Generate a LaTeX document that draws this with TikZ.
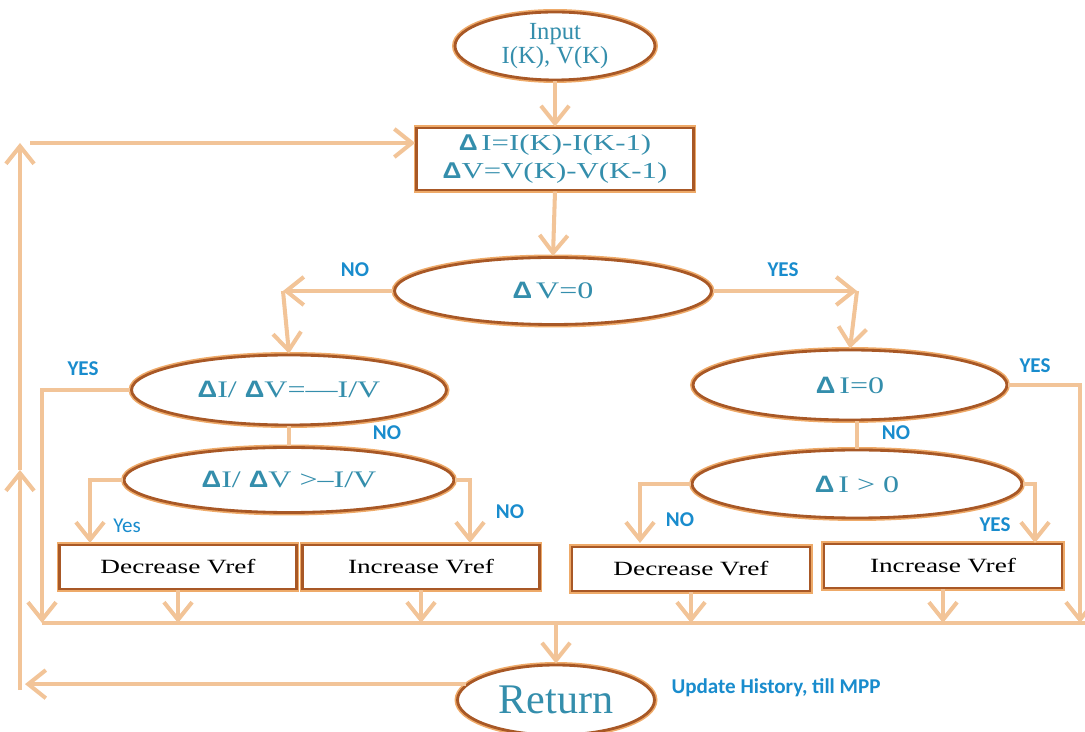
\documentclass[tikz,border=0pt]{standalone}
\usepackage{fontspec}
\setmainfont{Liberation Serif}
\newfontfamily\anchafont[FakeStretch=1.35]{Liberation Serif}
\newfontfamily\deltafont[FakeStretch=1.15]{Liberation Sans}
\newfontfamily\etiqfont{Carlito}
\usetikzlibrary{shapes.geometric,arrows.meta}

\definecolor{conector}{RGB}{242,196,152}
\definecolor{borde}{RGB}{168,88,38}
\definecolor{brillo}{RGB}{238,170,105}
\definecolor{texto}{RGB}{52,142,172}
\definecolor{etiqazul}{RGB}{25,140,205}

\newcommand{\dlt}{{\deltafont\bfseries Δ}}

\tikzset{
  elipse/.style={ellipse, draw=borde, line width=1.6pt, preaction={draw=brillo, line width=3.4pt},
    fill=white, text=texto, align=center, inner sep=0pt,
    font=\anchafont\fontsize{13.5}{16}\selectfont},
  caja/.style={rectangle, draw=borde, line width=1.6pt, preaction={draw=brillo, line width=3.4pt},
    fill=white, align=center, inner sep=0pt,
    font=\anchafont\fontsize{11.5}{16}\selectfont},
  flecha/.style={draw=conector, line width=2.3pt, -{Straight Barb[length=10pt,width=16pt]}},
  linea/.style={draw=conector, line width=2.3pt},
  etiq/.style={text=etiqazul, font=\etiqfont\bfseries\fontsize{12}{14}\selectfont},
}

\begin{document}
\begin{tikzpicture}[x=0.02cm, y=-0.02cm]
\useasboundingbox (0,0) rectangle (1085,732);
% Nodos
\node [elipse, minimum width=4cm, minimum height=1.36cm, font=\fontsize{14}{14}\selectfont] (inp) at (555,46) {Input\\I(K), V(K)};
\node [caja, text=texto, minimum width=5.54cm, minimum height=1.24cm, font=\anchafont\fontsize{13}{16}\selectfont] (dif) at (555,159) {\dlt\,I=I(K)-I(K-1)\\\dlt V=V(K)-V(K-1)};
\node [elipse, minimum width=6.34cm, minimum height=1.34cm] (dv) at (553,291) {\dlt\,V=0};
\node [elipse, minimum width=6.3cm, minimum height=1.4cm] (di1) at (289,390) {\dlt I/ \dlt V=—I/V};
\node [elipse, minimum width=6.6cm, minimum height=1.3cm] (di2) at (289,480) {\dlt I/ \dlt V >–I/V};
\node [elipse, minimum width=6.28cm, minimum height=1.4cm] (dI0) at (850,385) {\dlt\,I=0};
\node [elipse, minimum width=6.6cm, minimum height=1.36cm] (dIp) at (857,484) {\dlt\,I > 0};
\node [caja, minimum width=4.74cm, minimum height=0.88cm] (dec1) at (178,567) {Decrease Vref};
\node [caja, minimum width=4.74cm, minimum height=0.88cm] (inc1) at (421,567) {Increase Vref};
\node [caja, minimum width=4.76cm, minimum height=0.88cm] (dec2) at (691,569) {Decrease Vref};
\node [caja, minimum width=4.76cm, minimum height=0.88cm] (inc2) at (943,566) {Increase Vref};
\node [elipse, minimum width=3.94cm, minimum height=1.4cm, font=\fontsize{24}{24}\selectfont] (ret) at (556,700) {Return};
% Etiquetas
\node [etiq] (no1) at (355,270) {NO};
\node [etiq] (si1) at (783,270) {YES};
\node [etiq] (si2) at (83,369) {YES};
\node [etiq] (no2) at (387,433) {NO};
\node [etiq, font=\etiqfont\fontsize{12}{14}\selectfont] (si3) at (127,526) {Yes};
\node [etiq] (no3) at (510,512) {NO};
\node [etiq] (si4) at (1035,366) {YES};
\node [etiq] (no4) at (896,433) {NO};
\node [etiq] (no5) at (680,520) {NO};
\node [etiq] (si5) at (995,525) {YES};
\node [etiq] (hist) at (776,688) {Update History, till MPP};
% Puntos
\coordinate (busi) at (42,623);
\coordinate (busd) at (1085,623);
\coordinate (esq) at (1080,623);
\coordinate (nl) at (283,291);
\coordinate (nr) at (857,291);
\coordinate (y1) at (90,543);
\coordinate (y2) at (470,543);
\coordinate (y3) at (640,543);
\coordinate (y4) at (1035,543);
\coordinate (ri) at (25,687);
\coordinate (rb) at (20,690);
\coordinate (rm) at (20,470);
\coordinate (rs) at (20,143);
\coordinate (rh) at (30,143);
% Ejes
% ---
% arriba
% ---
\draw [flecha] (inp.south) -- (dif.north);
\draw [flecha] (dif.south) -- (dv.north);
\draw [flecha] (dv.west) -- (nl);
\draw [flecha] (nl) -- (di1.north);
\draw [flecha] (dv.east) -- (nr);
\draw [flecha] (nr) -- (dI0.north);
% ---
% izquierda
% ---
\draw [flecha] (di1.west) -| (busi);
\draw [linea] (di1.south) -- (di2.north);
\draw [flecha] (di2.west) -| (y1);
\draw [flecha] (di2.east) -| (y2);
% ---
% derecha
% ---
\draw [flecha] (dI0.east) -| (esq);
\draw [linea] (dI0.south -| dIp.north) -- (dIp.north);
\draw [flecha] (dIp.west) -| (y3);
\draw [flecha] (dIp.east) -| (y4);
% ---
% abajo
% ---
\draw [linea] (busi) -- (busd);
\draw [flecha] (dec1.south) -- (dec1.south |- busi);
\draw [flecha] (inc1.south) -- (inc1.south |- busi);
\draw [flecha] (dec2.south) -- (dec2.south |- busi);
\draw [flecha] (inc2.south) -- (inc2.south |- busi);
\draw [flecha] (ret.north |- busi) -- (ret.north);
% ---
% retorno
% ---
\draw [flecha] (ret.170) -- (ret.170 -| ri);
\draw [flecha] (rb) -- (rm);
\draw [flecha] (rm) -- (rs);
\draw [flecha] (rh) -- (rh -| dif.west);
\end{tikzpicture}
\end{document}
